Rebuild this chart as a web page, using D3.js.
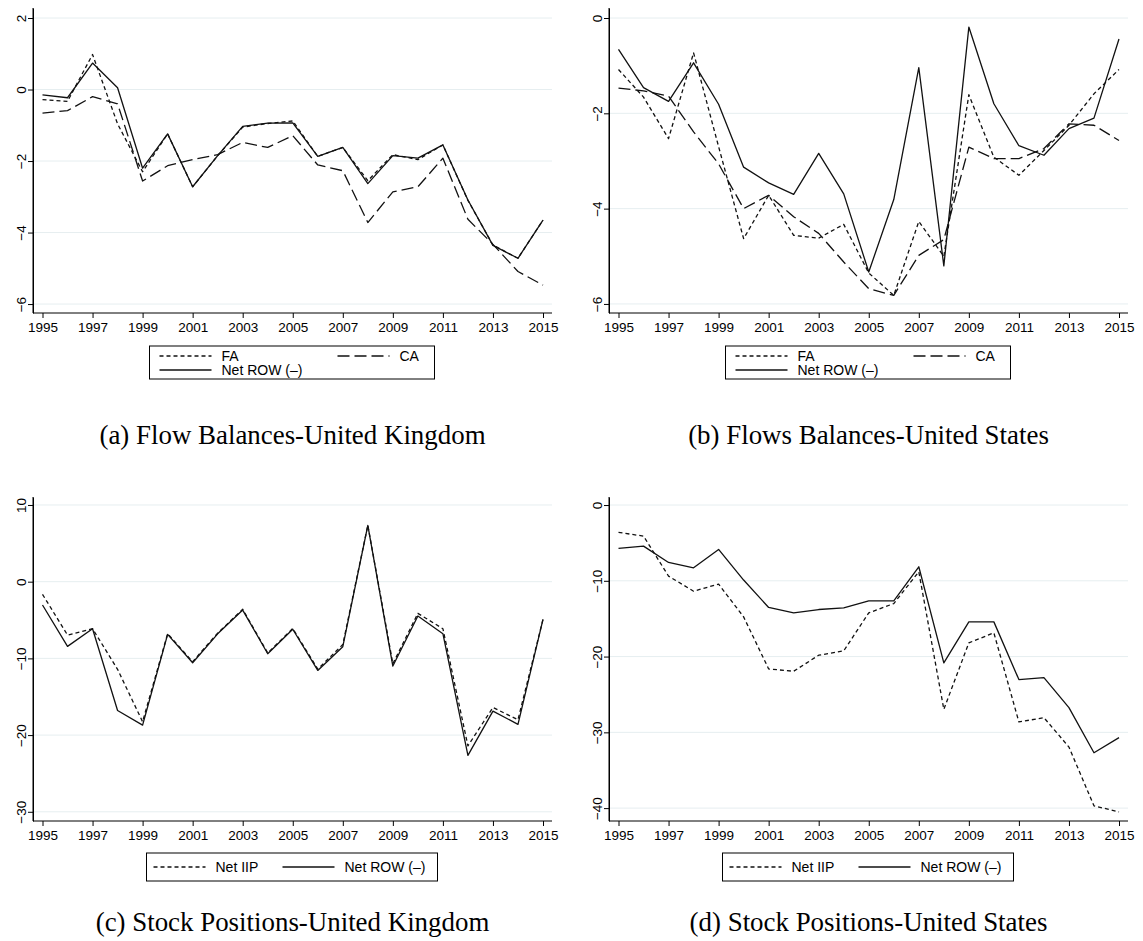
<!DOCTYPE html>
<html>
<head>
<meta charset="utf-8">
<script src="https://cdn.jsdelivr.net/npm/d3@7"></script>
<style>
  body { margin: 0; background: #fff; }
  text { fill: #000; }
</style>
</head>
<body>
<div id="chart"></div>
<script>
// years on the x axis
var years = [1995, 1996, 1997, 1998, 1999, 2000, 2001, 2002, 2003, 2004, 2005,
             2006, 2007, 2008, 2009, 2010, 2011, 2012, 2013, 2014, 2015]
var yearTicks = [1995, 1997, 1999, 2001, 2003, 2005, 2007, 2009, 2011, 2013, 2015]

// (a) flow balances, United Kingdom
var ukFA  = [-0.28, -0.33, 0.98, -0.96, -2.3, -1.24, -2.72, -1.85, -1.05, -0.95, -0.88,
             -1.87, -1.62, -2.55, -1.82, -1.96, -1.55, -3.1, -4.35, -4.72, -3.65]
var ukCA  = [-0.66, -0.59, -0.2, -0.4, -2.56, -2.13, -1.96, -1.82, -1.48, -1.62, -1.29,
             -2.11, -2.27, -3.72, -2.86, -2.72, -1.92, -3.63, -4.33, -5.09, -5.47]
var ukROW = [-0.15, -0.23, 0.74, 0.05, -2.2, -1.24, -2.72, -1.85, -1.03, -0.94, -0.93,
             -1.87, -1.62, -2.63, -1.85, -1.92, -1.55, -3.09, -4.36, -4.72, -3.65]
var ukFlowTicks = [2, 0, -2, -4, -6]

// (b) flow balances, United States
var usFA  = [-1.08, -1.66, -2.53, -0.73, -2.7, -4.63, -3.72, -4.56, -4.62, -4.33, -5.35,
             -5.82, -4.27, -5.0, -1.61, -2.92, -3.3, -2.78, -2.25, -1.59, -1.08]
var usCA  = [-1.47, -1.53, -1.64, -2.39, -3.06, -4.0, -3.72, -4.17, -4.52, -5.12, -5.68,
             -5.82, -4.98, -4.65, -2.71, -2.95, -2.95, -2.74, -2.22, -2.25, -2.57]
var usROW = [-0.66, -1.46, -1.75, -0.94, -1.81, -3.13, -3.46, -3.7, -2.84, -3.69, -5.33,
             -3.81, -1.04, -5.2, -0.19, -1.8, -2.68, -2.88, -2.32, -2.1, -0.44]
var usFlowTicks = [0, -2, -4, -6]

// (c) stock positions, United Kingdom
var ukIIP      = [-1.65, -6.96, -6.13, -11.43, -18.26, -6.78, -10.43, -6.7, -3.6, -9.3, -6.1,
                  -11.4, -8.2, 7.35, -10.7, -4.13, -6.13, -21.4, -16.4, -18.0, -4.91]
var ukROWstock = [-3.04, -8.43, -6.13, -16.8, -18.7, -6.87, -10.57, -6.8, -3.7, -9.39, -6.2,
                  -11.57, -8.48, 7.35, -11.0, -4.48, -6.78, -22.65, -16.87, -18.6, -4.91]
var ukStockTicks = [10, 0, -10, -20, -30]

// (d) stock positions, United States
var usIIP      = [-3.61, -4.1, -9.38, -11.37, -10.44, -14.76, -21.63, -21.94, -19.82, -19.25, -14.23,
                  -13.0, -8.81, -26.96, -18.19, -16.87, -28.63, -28.06, -31.94, -39.7, -40.5]
var usROWstock = [-5.73, -5.42, -7.58, -8.28, -5.86, -9.9, -13.52, -14.23, -13.79, -13.57, -12.64,
                  -12.64, -8.15, -20.84, -15.42, -15.42, -23.04, -22.78, -26.74, -32.69, -30.7]
var usStockTicks = [0, -10, -20, -30, -40]

var styles = {
    solid: null,
    short: "4,3",
    long: "12,5"
}

var svg = d3.select("#chart").append("svg")
    .attr("width", 1143)
    .attr("height", 941)
    .style("font-family", "'Liberation Sans', Arial, sans-serif")

svg.append("rect").attr("width", 1143).attr("height", 941).attr("fill", "#fff")

function draw_panel(p) {
    var g = svg.append("g")

    var x = d3.scaleLinear().domain([1995, 2015]).range([p.left + 9.5, p.right - 9])
    var y = d3.scaleLinear().domain(p.domain).range([p.bottom, p.top])

    // grid
    g.append("g").selectAll("line")
        .data(p.ticks)
        .enter().append("line")
        .attr("x1", p.left).attr("x2", p.right)
        .attr("y1", function(d) { return y(d) }).attr("y2", function(d) { return y(d) })
        .attr("stroke", "#e6eef0")
        .attr("stroke-width", 1)

    // y axis
    var ya = g.append("g")
        .attr("transform", "translate(" + p.left + ",0)")
        .call(d3.axisLeft(y).tickValues(p.ticks).tickFormat(d3.format("d")).tickSize(5).tickSizeOuter(0))
    ya.select(".domain").attr("stroke", "#000")
    ya.selectAll(".tick line").attr("stroke", "#000")
    ya.selectAll("text")
        .attr("x", null).attr("dy", null)
        .attr("transform", "translate(-7,0) rotate(-90)")
        .attr("text-anchor", "middle")
        .style("font-size", "13.5px")

    // x axis
    var xa = g.append("g")
        .attr("transform", "translate(0," + p.bottom + ")")
        .call(d3.axisBottom(x).tickValues(yearTicks).tickFormat(d3.format("d")).tickSize(5).tickSizeOuter(0))
    xa.select(".domain").attr("d", "M" + p.left + ",0H" + p.right).attr("stroke", "#000")
    xa.selectAll(".tick line").attr("stroke", "#000")
    xa.selectAll("text").attr("y", 9).style("font-size", "13.5px")

    // y axis line goes all the way to x axis
    g.append("line")
        .attr("x1", p.left).attr("x2", p.left)
        .attr("y1", p.top).attr("y2", p.bottom)
        .attr("stroke", "#000")

    var line = d3.line()
        .x(function(d, i) { return x(years[i]) })
        .y(function(d) { return y(d) })

    p.series.forEach(function(s) {
        g.append("path")
            .datum(s.values)
            .attr("d", line)
            .attr("fill", "none")
            .attr("stroke", "#111")
            .attr("stroke-width", 1.3)
            .attr("stroke-linejoin", "round")
            .attr("stroke-dasharray", styles[s.style])
    })

    // legend
    var lg = g.append("g").attr("transform", "translate(" + p.legend.x + "," + p.legend.y + ")")
    lg.append("rect")
        .attr("width", p.legend.w).attr("height", p.legend.h)
        .attr("fill", "#fff").attr("stroke", "#000").attr("stroke-width", 1)
    p.series.forEach(function(s, i) {
        var pos = p.legend.items[i]
        lg.append("line")
            .attr("x1", pos[0]).attr("x2", pos[0] + 52)
            .attr("y1", pos[1]).attr("y2", pos[1])
            .attr("stroke", "#111").attr("stroke-width", 1.3)
            .attr("stroke-dasharray", styles[s.style])
        lg.append("text")
            .attr("x", pos[0] + 62).attr("y", pos[1])
            .attr("dy", "0.35em")
            .style("font-size", "14px")
            .text(s.name)
    })

    svg.append("text")
        .attr("class", "caption")
        .attr("x", (p.left + p.right) / 2)
        .attr("y", p.caption_y)
        .attr("text-anchor", "middle")
        .style("font-family", "'Liberation Serif', 'DejaVu Serif', serif")
        .style("font-size", "20px")
        .text(p.caption)
}

var flowLegend = function(cx) {
    return { x: cx - 143, y: 346, w: 285, h: 33, items: [[10, 10], [188, 10], [10, 24]] }
}
var stockLegend = function(cx) {
    return { x: cx - 146, y: 853, w: 291, h: 28, items: [[7, 14], [136, 14]] }
}

draw_panel({
    left: 33, right: 552, top: 8, bottom: 313,
    domain: [-6.25, 2.28], ticks: ukFlowTicks,
    series: [
        { name: "FA", values: ukFA, style: "short" },
        { name: "CA", values: ukCA, style: "long" },
        { name: "Net ROW (\u2013)", values: ukROW, style: "solid" }
    ],
    legend: flowLegend(292.5),
    caption: "(a) Flow Balances-United Kingdom", caption_y: 444
})

draw_panel({
    left: 609, right: 1128, top: 8, bottom: 313,
    domain: [-6.19, 0.21], ticks: usFlowTicks,
    series: [
        { name: "FA", values: usFA, style: "short" },
        { name: "CA", values: usCA, style: "long" },
        { name: "Net ROW (\u2013)", values: usROW, style: "solid" }
    ],
    legend: flowLegend(868.5),
    caption: "(b) Flows Balances-United States", caption_y: 444
})

draw_panel({
    left: 33, right: 552, top: 497, bottom: 821,
    domain: [-31.2, 11.04], ticks: ukStockTicks,
    series: [
        { name: "Net IIP", values: ukIIP, style: "short" },
        { name: "Net ROW (\u2013)", values: ukROWstock, style: "solid" }
    ],
    legend: stockLegend(292.5),
    caption: "(c) Stock Positions-United Kingdom", caption_y: 931
})

draw_panel({
    left: 609, right: 1128, top: 497, bottom: 821,
    domain: [-41.7, 1.06], ticks: usStockTicks,
    series: [
        { name: "Net IIP", values: usIIP, style: "short" },
        { name: "Net ROW (\u2013)", values: usROWstock, style: "solid" }
    ],
    legend: stockLegend(868.5),
    caption: "(d) Stock Positions-United States", caption_y: 931
})

// size captions so that (d) spans about 358px, as in the print
var caps = svg.selectAll(".caption")
var wd = caps.nodes()[3].getComputedTextLength()
caps.style("font-size", (20 * 358 / wd).toFixed(1) + "px")
</script>
</body>
</html>
